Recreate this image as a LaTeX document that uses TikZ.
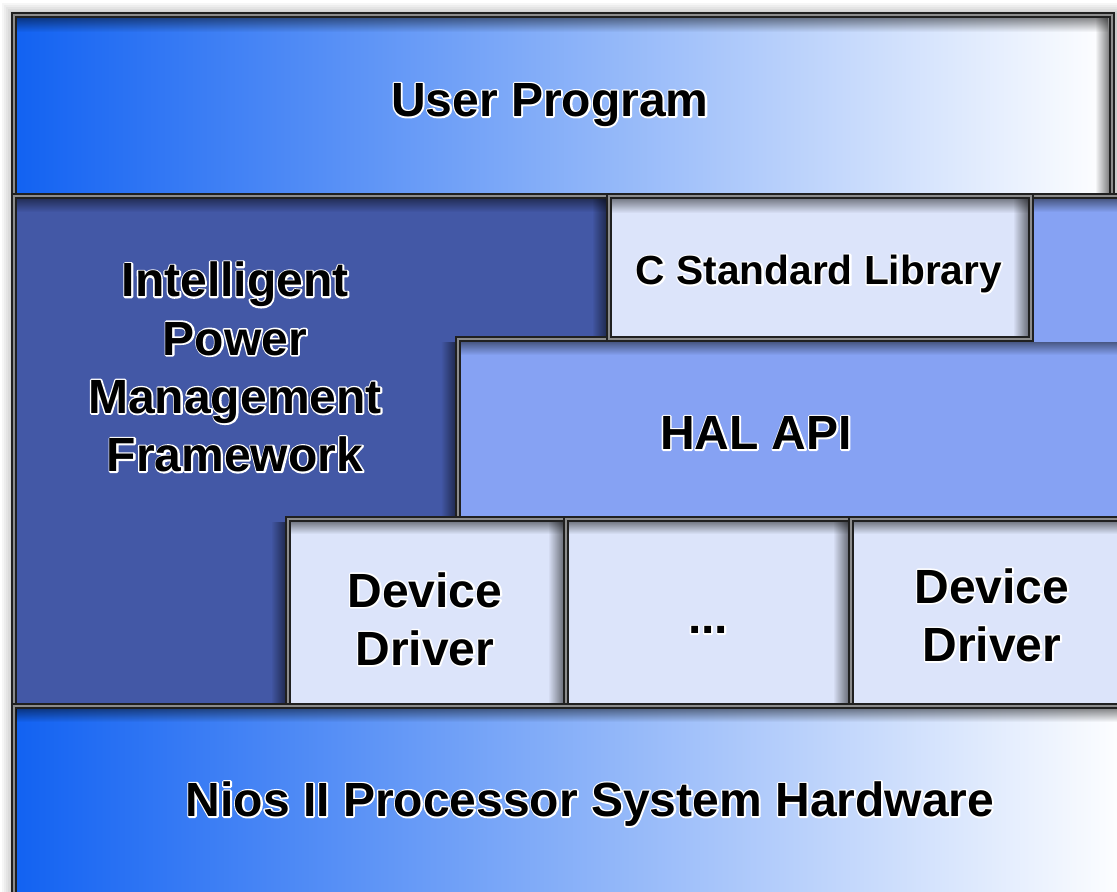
\documentclass[tikz,border=0pt]{standalone}
\usepackage{fontspec}
\setmainfont{Liberation Sans}
\usetikzlibrary{fadings}
\definecolor{bandblue}{RGB}{18,98,242}
\definecolor{ipmblue}{RGB}{67,88,166}
\definecolor{halblue}{RGB}{134,162,243}
\definecolor{libfill}{RGB}{220,228,250}
\definecolor{framedark}{RGB}{32,32,32}
\definecolor{framegray}{RGB}{140,140,140}
\newcommand{\halo}[1]{\rlap{\special{pdf:literal direct 1 Tr 1 1 1 RG 2.4 w 1 j}#1\special{pdf:literal direct 0 Tr}}#1}

\begin{document}
\begin{tikzpicture}[
    x=0.75pt, y=-0.75pt,
    layerframe/.style={draw=framedark, line width=1.5pt, double=framegray, double distance=1.1pt},
    band/.style={layerframe, left color=bandblue, right color=white},
    ipmlayer/.style={layerframe, fill=ipmblue},
    hallayer/.style={layerframe, fill=halblue},
    litebox/.style={layerframe, fill=libfill},
    rshade/.style={fill=black, fill opacity=0.5, path fading=west},
    tshade/.style={fill=black, fill opacity=0.45, path fading=south},
    lbl/.style={font=\fontsize{36}{43.7}\selectfont\bfseries, align=center, inner sep=0pt},
    smalllbl/.style={lbl, font=\fontsize{30.5}{36}\selectfont\bfseries}
]
    \useasboundingbox (0,0) rectangle (1117,892);
    \clip (0,0) rectangle (1117,892);
    \fill[white] (0,0) rectangle (1117,892);
    \foreach \d in {2,4,...,12}
        \fill[black, opacity=0.035] (14-\d,15-\d) rectangle (1140,900);

    % layers
    \path[band] (14,15) rectangle (1112,196);
    \path[ipmlayer] (14,196) -- (609,196) -- (609,339) -- (458,339) -- (458,519)
        -- (288,519) -- (288,706) -- (14,706) -- cycle;
    \path[hallayer] (458,339) -- (1031,339) -- (1031,196) -- (1130,196) -- (1130,519)
        -- (458,519) -- cycle;
    \path[litebox] (609,196) rectangle (1031,339);
    \path[litebox] (288,519) rectangle (566,706);
    \path[litebox] (566,519) rectangle (851,706);
    \path[litebox] (851,519) rectangle (1130,706);
    \path[band] (14,706) rectangle (1130,900);

    % inner shadows
    \fill[tshade] (17,18) rectangle (1109,32);
    \fill[rshade] (1095,18) rectangle (1109,193);
    \fill[tshade] (17,199) rectangle (606,212);
    \fill[rshade] (592,199) rectangle (606,336);
    \fill[rshade] (441,342) rectangle (455,516);
    \fill[rshade] (271,522) rectangle (285,703);
    \fill[tshade] (612,199) rectangle (1028,213);
    \fill[rshade] (1013,199) rectangle (1028,336);
    \fill[tshade] (461,342) rectangle (1130,355);
    \fill[tshade] (1034,199) rectangle (1130,212);
    \fill[tshade] (291,522) rectangle (563,534);
    \fill[rshade] (548,522) rectangle (563,703);
    \fill[tshade] (569,522) rectangle (848,534);
    \fill[rshade] (833,522) rectangle (848,703);
    \fill[tshade] (854,522) rectangle (1130,534);
    \fill[tshade] (17,709) rectangle (1130,722);

    % labels
    \node[lbl] (user) at (550,105) {\halo{User Program}};
    \node[lbl] (ipm) at (235,367) {\halo{Intelligent}\\\halo{Power}\\\halo{Management}\\\halo{Framework}};
    \node[smalllbl] (clib) at (819,274) {\halo{C Standard Library}};
    \node[lbl] (hal) at (756,433) {\halo{HAL API}};
    \node[lbl] (drva) at (425,619) {\halo{Device}\\\halo{Driver}};
    \node[lbl] (dots) at (708,630) {\halo{...}};
    \node[lbl] (drvb) at (992,615) {\halo{Device}\\\halo{Driver}};
    \node[lbl] (hw) at (590,804) {\halo{Nios II Processor System Hardware}};
\end{tikzpicture}
\end{document}
